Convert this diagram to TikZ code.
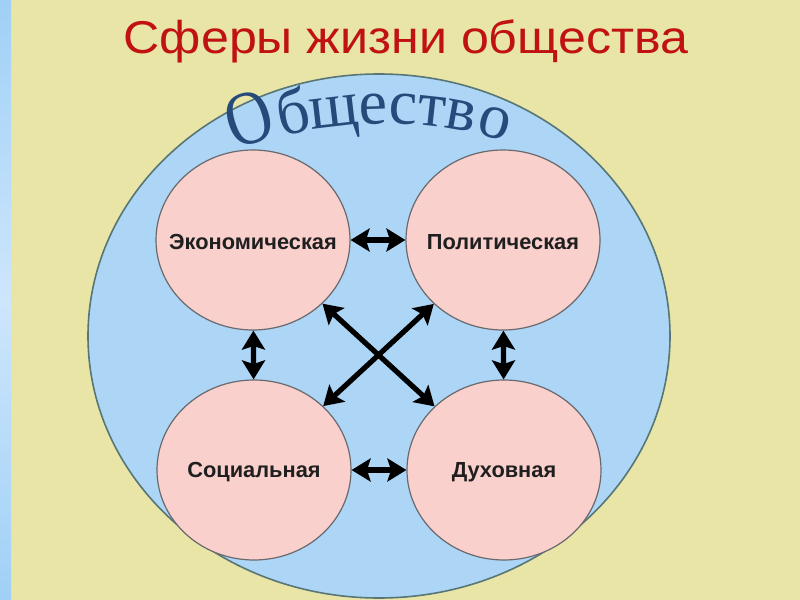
\documentclass[tikz,border=0pt]{standalone}
\usepackage{fontspec}
\setmainfont{Liberation Sans}
\newfontfamily\serifru{Liberation Serif}
\usetikzlibrary{shapes.geometric,arrows.meta,shadings}
\definecolor{bgyel}{RGB}{233,229,166}
\definecolor{bigblue}{RGB}{172,213,246}
\definecolor{bigline}{RGB}{88,118,118}
\definecolor{pinkfill}{RGB}{249,208,203}
\definecolor{pinkline}{RGB}{105,105,110}
\definecolor{titlered}{RGB}{192,18,18}
\definecolor{wordblue}{RGB}{38,74,122}
\definecolor{stripblue}{RGB}{160,208,246}
\definecolor{stripblue2}{RGB}{205,230,252}
\begin{document}
\begin{tikzpicture}[x=0.5pt,y=-0.5pt,
  sphere/.style={ellipse, draw=pinkline, line width=0.6pt, fill=pinkfill,
    minimum width=97pt, minimum height=90pt, inner sep=0pt},
  spheretext/.style={inner sep=0pt, text=black!88,
    font=\bfseries\fontsize{10.9}{12}\selectfont},
  link/.style={line width=2.6pt,
    {Stealth[length=9.5pt,width=11.5pt,inset=1.8pt]}-{Stealth[length=9.5pt,width=11.5pt,inset=1.8pt]}},
  letter/.style={anchor=base, inner sep=0pt, text=wordblue,
    font=\serifru\fontsize{32}{32}\selectfont}
]
\useasboundingbox (0,0) rectangle (800,600);
\fill[bgyel] (0,0) rectangle (800,600);
\shade[top color=stripblue, bottom color=stripblue, middle color=stripblue2] (0,0) rectangle (11,600);

\node[ellipse, draw=bigline, line width=0.8pt, fill=bigblue,
  minimum width=291pt, minimum height=262pt, inner sep=0pt] (society) at (379,336) {};

\node[anchor=base, inner sep=0pt, text=titlered,
  font=\fontsize{23}{23}\selectfont] (title) at (406,53)
  {\scalebox{1.09}[1]{Сферы жизни общества}};

\node[letter, rotate=17.45] (l0) at (256.5,143.0) {\scalebox{1}[1.2]{О}};
\foreach \ch/\px/\py/\ang [count=\i] in
  {б/297.4/133.3/12.11, щ/336.0/126.9/6.70, е/373.8/124.2/1.53,
   с/402.2/124.3/-2.35, т/430.4/126.5/-6.21, в/458.8/130.6/-10.18,
   о/491.0/137.4/-14.41}
{
  \node[letter, rotate=\ang] (l\i) at (\px,\py) {\ch};
}

\node[sphere] (econ) at (253,240) {};
\node[sphere] (polit) at (503,240) {};
\node[sphere] (soc) at (254,470) {};
\node[sphere] (spirit) at (504,470) {};
\node[spheretext] (econtext) at (253,242) {Экономическая};
\node[spheretext] (polittext) at (503,242) {Политическая};
\node[spheretext] (soctext) at (254,472) {Социальная};
\node[spheretext] (spirittext) at (504,472) {Духовная};

\draw[link] (econ) -- (polit);
\draw[link] (soc) -- (spirit);
\draw[link] (econ) -- (soc);
\draw[link] (polit) -- (spirit);
\draw[link] (econ) -- (spirit);
\draw[link] (polit) -- (soc);
\end{tikzpicture}
\end{document}
